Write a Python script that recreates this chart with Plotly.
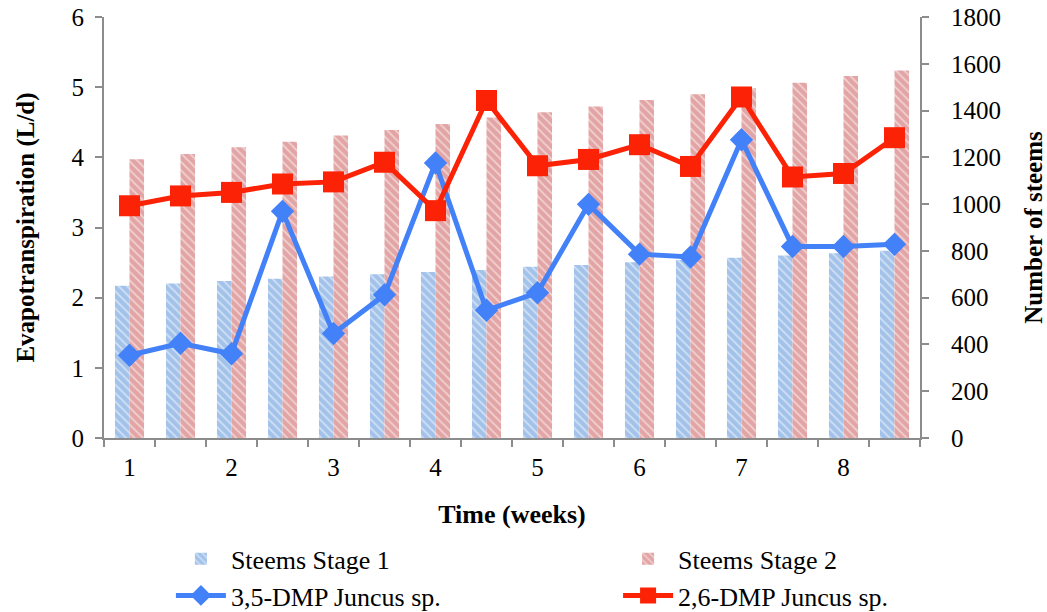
import plotly.graph_objects as go

# Sampling points: two per week, labelled at the start of each week
positions = list(range(16))
week_ticks = [0, 2, 4, 6, 8, 10, 12, 14]
week_labels = ["1", "2", "3", "4", "5", "6", "7", "8"]

# Number of stems per stage (right axis)
stems_stage1 = [651, 661, 671, 681, 690, 700, 710, 718, 732, 740, 751, 761, 771, 780, 790, 801]
stems_stage2 = [1192, 1214, 1243, 1267, 1293, 1317, 1343, 1370, 1393, 1417, 1445, 1470, 1495, 1519, 1548, 1571]

# Evapotranspiration (L/d), left axis
et_35dmp = [1.18, 1.35, 1.20, 3.23, 1.49, 2.04, 3.92, 1.82, 2.07, 3.33, 2.62, 2.58, 4.25, 2.73, 2.73, 2.76]
et_26dmp = [3.31, 3.45, 3.50, 3.62, 3.65, 3.93, 3.24, 4.81, 3.88, 3.97, 4.18, 3.87, 4.86, 3.72, 3.77, 4.28]

FONT = "Liberation Serif, Times New Roman, serif"
AXIS_GREY = "#8c8c8c"
BLUE_BAR = "#a3c2ea"
RED_BAR = "#e2a4a4"
BLUE_LINE = "#4281f7"
RED_LINE = "#fb2205"

fig = go.Figure()

fig.add_trace(go.Bar(
    x=positions, y=stems_stage1, name="Steems Stage 1", yaxis="y",
    legend="legend", legendgroup="a",
    marker=dict(color=BLUE_BAR, line=dict(width=0),
                pattern=dict(shape="\\", fgcolor="white", bgcolor=BLUE_BAR,
                             size=6, solidity=0.3)),
))
fig.add_trace(go.Bar(
    x=positions, y=stems_stage2, name="Steems Stage 2", yaxis="y",
    legend="legend2", legendgroup="b",
    marker=dict(color=RED_BAR, line=dict(width=0),
                pattern=dict(shape="\\", fgcolor="white", bgcolor=RED_BAR,
                             size=6, solidity=0.3)),
))
fig.add_trace(go.Scatter(
    x=positions, y=et_35dmp, name="3,5-DMP Juncus sp.", yaxis="y2",
    legend="legend", legendgroup="c",
    mode="lines+markers",
    line=dict(color=BLUE_LINE, width=5),
    marker=dict(symbol="diamond", size=18, color=BLUE_LINE),
))
fig.add_trace(go.Scatter(
    x=positions, y=et_26dmp, name="2,6-DMP Juncus sp.", yaxis="y2",
    legend="legend2", legendgroup="d",
    mode="lines+markers",
    line=dict(color=RED_LINE, width=5),
    marker=dict(symbol="square", size=21, color=RED_LINE),
))

legend_style = dict(
    orientation="v", yanchor="top", xanchor="left",
    font=dict(family=FONT, size=26), tracegroupgap=0,
    itemwidth=50, bgcolor="rgba(0,0,0,0)",
)

fig.update_layout(
    width=1047, height=612,
    margin=dict(l=104, r=127, t=17, b=174, autoexpand=False),
    paper_bgcolor="white", plot_bgcolor="white",
    font=dict(family=FONT, size=25, color="black"),
    barmode="group", bargap=0.43, bargroupgap=0,
    xaxis=dict(
        range=[-0.5, 15.5],
        tickmode="array", tickvals=week_ticks, ticktext=week_labels,
        ticks="", showgrid=False, zeroline=False,
        showline=True, linecolor=AXIS_GREY, linewidth=2,
        minor=dict(tickmode="linear", tick0=-0.5, dtick=1, ticks="outside",
                   ticklen=7, tickwidth=2, tickcolor=AXIS_GREY, showgrid=False),
        tickfont=dict(size=25), ticklabelstandoff=6,
        title=dict(text="<b>Time (weeks)</b>", font=dict(size=26), standoff=25),
    ),
    yaxis=dict(
        side="right", range=[0, 1800], dtick=200,
        showgrid=False, zeroline=False,
        showline=True, linecolor=AXIS_GREY, linewidth=2,
        ticks="outside", ticklen=7, tickwidth=2, tickcolor=AXIS_GREY,
        tickfont=dict(size=25), ticklabelstandoff=17,
        title=dict(text="<b>Number of steems</b>", font=dict(size=25), standoff=25),
    ),
    yaxis2=dict(
        overlaying="y", side="left", range=[0, 6], dtick=1,
        showgrid=False, zeroline=False,
        showline=True, linecolor=AXIS_GREY, linewidth=2,
        ticks="outside", ticklen=7, tickwidth=2, tickcolor=AXIS_GREY,
        tickfont=dict(size=25), ticklabelstandoff=6,
        title=dict(text="<b>Evapotranspiration (L/d)</b>", font=dict(size=25), standoff=30),
    ),
    legend=dict(x=0.082, y=-0.231, **legend_style),
    legend2=dict(x=0.63, y=-0.231, **legend_style),
)

fig.write_html("out.html")
